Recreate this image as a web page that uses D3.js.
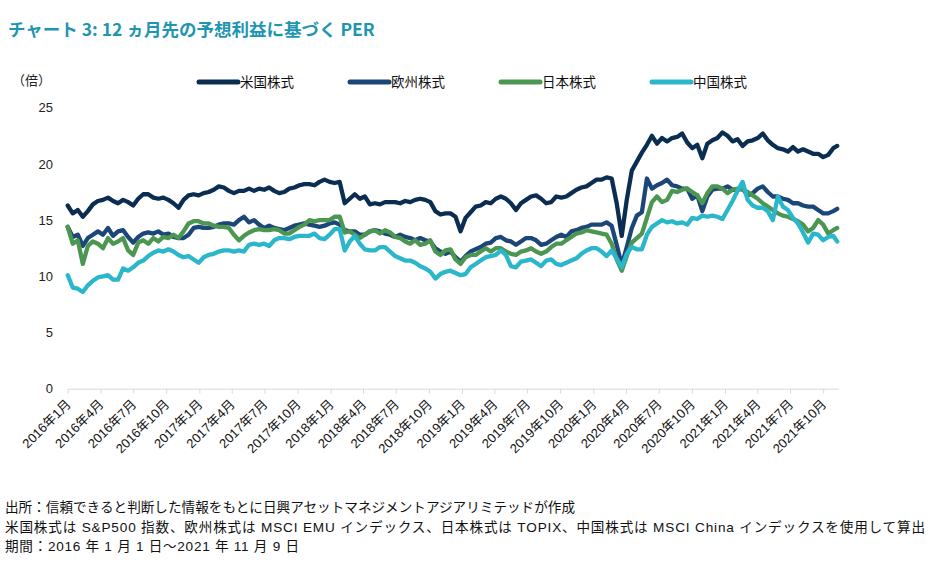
<!DOCTYPE html>
<html><head><meta charset="utf-8">
<script src="https://cdn.jsdelivr.net/npm/d3@7"></script>
<style>body{margin:0;background:#fff}</style>
</head><body><svg id="chart" width="940" height="563"></svg>
<script>
const titleText = "チャート 3: 12 ヵ月先の予想利益に基づく PER";
const yUnitText = "（倍）";
const seriesNames = ["米国株式", "欧州株式", "日本株式", "中国株式"];
const seriesColors = ["#0b2d52", "#1b4677", "#4b9651", "#2bb7cb"];
const yTickValues = [0, 5, 10, 15, 20, 25];
const noteLines = [
  "出所：信頼できると判断した情報をもとに日興アセットマネジメントアジアリミテッドが作成",
  "米国株式は S&P500 指数、欧州株式は MSCI EMU インデックス、日本株式は TOPIX、中国株式は MSCI China インデックスを使用して算出",
  "期間：2016 年 1 月 1 日～2021 年 11 月 9 日"
];
const noteWidths = [570, 920, 294];
const startDate = "2016-01-01";
const endDate = "2021-11-09";
const axisEndDate = "2021-11-12";
const stepDays = 14;

const usValues = [16.3,15.6,15.9,15.3,15.8,16.4,16.7,16.8,17.0,16.7,
16.5,16.8,16.6,16.3,16.9,17.3,17.3,17.0,16.9,17.0,
16.8,16.5,16.1,16.8,17.2,17.3,17.2,17.4,17.5,17.7,
18.0,17.9,17.6,17.4,17.6,17.6,17.8,17.6,17.8,17.7,
17.9,17.6,17.4,17.5,17.8,17.9,18.1,18.2,18.2,18.1,
18.4,18.6,18.4,18.3,18.4,16.5,16.9,17.3,16.9,17.1,
16.4,16.5,16.4,16.6,16.6,16.6,16.5,16.7,16.6,16.8,
16.9,16.8,16.6,15.8,15.5,15.6,15.6,
15.3,14.0,15.2,15.7,16.2,16.3,16.6,16.5,16.9,17.1,
16.9,16.5,15.9,16.5,16.8,17.1,17.2,16.9,16.5,16.6,
17.1,17.0,17.1,17.4,17.7,17.9,18.0,18.3,18.6,18.6,
18.8,18.7,16.5,13.6,16.8,19.4,20.2,21.0,21.7,22.5,
21.8,22.3,22.0,22.3,22.4,22.7,21.9,21.4,21.7,20.5,
21.8,22.1,22.3,22.8,22.5,22.0,22.2,21.6,22.0,22.1,
22.3,22.7,22.1,21.7,21.4,21.3,21.1,21.5,21.1,21.3,
21.1,20.9,20.9,20.6,20.8,21.4,21.6];

const euValues = [14.4,13.5,13.7,12.7,13.4,13.7,14.0,13.7,14.3,13.6,
14.0,14.1,13.5,13.0,13.5,13.8,13.9,13.8,14.0,13.7,
13.8,13.5,13.4,13.4,13.7,14.3,14.4,14.3,14.3,14.4,
14.6,14.7,14.7,14.6,15.0,15.3,14.8,15.0,14.6,14.3,
14.5,14.3,14.2,14.1,14.3,14.5,14.6,14.7,14.6,14.5,
14.4,14.5,14.7,14.8,14.6,14.1,14.0,14.0,13.7,13.7,
14.0,14.1,14.0,13.8,13.7,13.5,13.7,13.5,13.4,13.2,
13.4,13.2,13.1,12.5,12.2,12.0,12.2,
11.7,11.3,11.8,12.2,12.4,12.6,12.9,13.0,13.4,13.5,
13.2,13.1,12.8,13.1,13.4,13.4,13.2,12.8,12.9,13.2,
13.5,13.7,13.5,14.0,14.1,14.3,14.4,14.6,14.6,14.6,
14.8,14.5,12.8,11.0,12.6,14.3,15.4,15.7,18.7,17.8,
18.1,18.3,18.6,18.1,18.0,17.8,17.8,16.9,17.2,15.8,
17.1,17.7,17.8,17.8,18.0,17.7,17.7,17.8,17.2,17.4,
17.8,18.0,17.5,17.1,17.1,16.9,16.8,16.5,16.5,16.3,
16.2,16.2,15.9,15.6,15.6,15.8,16.0];

const jpValues = [14.4,12.9,13.2,11.1,12.7,13.1,12.9,12.5,13.4,12.9,
13.1,13.4,12.3,11.9,13.0,13.2,12.9,13.4,13.1,13.5,
13.4,13.7,13.4,14.0,14.7,14.9,14.9,14.7,14.7,14.5,
14.4,14.4,14.3,13.7,13.2,13.6,13.9,14.1,14.2,14.1,
14.1,14.2,14.1,13.8,13.8,14.1,14.4,14.6,15.0,14.9,
15.0,15.0,15.0,15.3,15.3,13.9,14.0,13.7,13.4,13.7,
14.0,14.1,13.8,14.1,13.9,13.5,13.4,13.1,12.9,13.2,
12.8,12.9,13.2,12.2,11.9,12.3,12.4,
11.5,11.1,11.7,11.9,11.9,12.2,12.5,12.2,12.5,12.5,
12.2,12.0,11.9,12.2,12.3,12.5,12.2,12.0,12.2,12.6,
12.9,12.9,13.2,13.5,13.8,13.9,14.1,14.0,13.9,13.8,
13.7,12.9,11.5,10.5,11.8,13.0,13.4,13.8,15.2,16.6,
17.1,16.6,16.8,17.6,17.5,17.7,17.8,17.5,17.2,16.5,
17.4,18.0,18.0,17.8,17.4,17.7,17.8,17.7,17.5,17.2,
16.9,16.5,16.2,15.9,15.6,15.4,15.3,15.1,14.9,14.6,
14.0,14.3,15.0,14.6,13.8,14.1,14.3];

const cnValues = [10.1,9.0,8.9,8.6,9.2,9.6,9.9,10.0,10.1,9.7,
9.7,10.7,10.5,10.8,11.2,11.4,11.8,12.1,12.3,12.2,
12.4,12.2,11.9,11.7,11.8,11.5,11.2,11.7,11.9,12.0,
12.2,12.3,12.3,12.2,12.3,12.2,12.8,12.9,12.8,12.9,
12.7,13.2,13.4,13.4,13.3,13.5,13.6,13.6,13.6,13.8,
13.4,13.3,13.7,14.2,14.2,12.3,13.1,13.6,12.9,12.4,
12.3,12.3,12.6,12.6,12.2,11.8,11.6,11.4,11.4,11.2,
10.9,10.7,10.4,9.8,10.2,10.4,10.5,
10.3,10.1,10.2,10.8,11.1,11.4,11.7,11.8,11.9,12.3,
11.9,10.9,10.8,11.3,11.4,11.5,11.2,10.9,11.4,11.5,
11.1,11.0,11.2,11.4,11.6,12.0,12.3,12.5,12.5,12.2,
11.8,12.3,11.6,10.8,12.0,12.6,12.4,12.4,13.7,14.4,
14.7,15.0,14.8,14.9,14.7,14.8,14.6,15.2,15.1,15.4,
15.3,15.4,15.3,15.1,15.9,16.7,17.6,18.4,16.8,16.3,
16.1,16.1,15.8,15.0,17.1,16.2,15.9,15.2,14.7,13.9,
13.0,13.8,13.7,13.2,13.5,13.6,13.1];

const seriesValues = [usValues, euValues, jpValues, cnValues];

const parse = d3.timeParse("%Y-%m-%d");
const t0 = parse(startDate), tEnd = parse(endDate);
const dates = usValues.map((_, i) => i === usValues.length - 1 ? tEnd : d3.timeDay.offset(t0, i * stepDays));

const svg = d3.select("#chart");
const fontMix = "'Liberation Sans', 'Noto Sans CJK JP', sans-serif";

const x = d3.scaleTime().domain([t0, parse(axisEndDate)]).range([67.7, 838.3]);
const y = d3.scaleLinear().domain([0, 25]).range([388.7, 107.7]);

// title
svg.append("text").attr("x", 8).attr("y", 36)
  .attr("font-family", "'Noto Sans CJK JP', sans-serif").attr("font-weight", "bold")
  .attr("font-size", 17.5).attr("fill", "#1e95b1").text(titleText);

// unit
svg.append("text").attr("x", 12).attr("y", 85)
  .attr("font-family", fontMix).attr("font-size", 13).attr("fill", "#222").text(yUnitText);

// y axis labels
const yAxis = d3.axisLeft(y).tickValues(yTickValues).tickSize(0).tickPadding(0);
const gy = svg.append("g").attr("transform", "translate(53,0)").call(yAxis);
gy.select(".domain").remove();
gy.selectAll("text").attr("font-family", fontMix).attr("font-size", 13).attr("fill", "#222");

// x axis
const tickDates = d3.timeMonth.every(3).range(t0, parse(axisEndDate));
const xAxis = d3.axisBottom(x).tickValues(tickDates).tickSize(5).tickSizeOuter(0)
  .tickFormat(d => `${d.getFullYear()}年${d.getMonth() + 1}月`);
const gx = svg.append("g").attr("transform", `translate(0,${y(0)})`).call(xAxis);
gx.select(".domain").attr("stroke", "#d9d9d9");
gx.selectAll(".tick line").attr("stroke", "#d9d9d9");
gx.selectAll("text").attr("font-family", fontMix).attr("font-size", 13).attr("fill", "#111")
  .attr("text-anchor", "end").attr("x", -9).attr("y", 14).attr("dy", 0)
  .attr("transform", "rotate(-45)");

// lines
const line = d3.line().x((d, i) => x(dates[i])).y(d => y(d));
seriesValues.forEach((vals, k) => {
  svg.append("path").datum(vals).attr("d", line).attr("fill", "none")
    .attr("stroke", seriesColors[k]).attr("stroke-width", 4.3)
    .attr("stroke-linejoin", "round").attr("stroke-linecap", "round");
});

// legend
const legendX = [197, 348, 499, 650];
seriesNames.forEach((name, k) => {
  const g = svg.append("g").attr("transform", `translate(${legendX[k]},82)`);
  g.append("line").attr("x1", 2).attr("x2", 41).attr("y1", 0).attr("y2", 0)
    .attr("stroke", seriesColors[k]).attr("stroke-width", 5).attr("stroke-linecap", "round");
  g.append("text").attr("x", 43).attr("y", 0).attr("dy", "0.36em")
    .attr("font-family", fontMix).attr("font-size", 13.5).attr("fill", "#111").text(name);
});

// notes
noteLines.forEach((t, i) => {
  svg.append("text").attr("x", 5).attr("y", 512 + i * 19.5)
    .attr("font-family", fontMix).attr("font-size", 13.6).attr("fill", "#111")
    .attr("textLength", noteWidths[i]).attr("lengthAdjust", "spacing").text(t);
});
</script></body></html>
